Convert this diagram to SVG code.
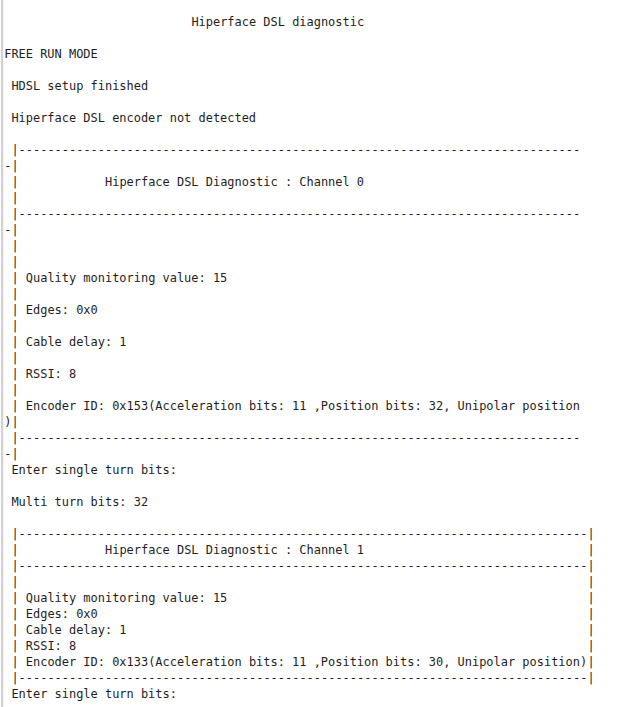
<svg xmlns="http://www.w3.org/2000/svg" width="618" height="707" viewBox="0 0 618 707">
<style>
text{font-family:"DejaVu Sans Mono","Liberation Mono",monospace;font-size:11.96px;fill:#1e1e1e;white-space:pre}
</style>
<rect width="618" height="707" fill="#ffffff"/>
<rect x="1" y="0" width="2.2" height="707" fill="#d2d2d2"/>
<g id="header">
<text x="191.4" y="26">Hiperface DSL diagnostic</text>
<text x="4.2" y="58">FREE RUN MODE</text>
<text x="11.4" y="90">HDSL setup finished</text>
<text x="11.4" y="122">Hiperface DSL encoder not detected</text>
</g>
<g id="channel0">
<text x="11.4" y="154" textLength="568.8" lengthAdjust="spacing">|------------------------------------------------------------------------------</text>
<text x="4.2" y="170">-|</text>
<text x="11.4" y="186">|</text>
<text x="105" y="186">Hiperface DSL Diagnostic : Channel 0</text>
<text x="11.4" y="202">|</text>
<text x="11.4" y="218" textLength="568.8" lengthAdjust="spacing">|------------------------------------------------------------------------------</text>
<text x="4.2" y="234">-|</text>
<text x="11.4" y="250">|</text>
<text x="11.4" y="266">|</text>
<text x="11.4" y="282">|</text>
<text x="25.8" y="282">Quality monitoring value: 15</text>
<text x="11.4" y="298">|</text>
<text x="11.4" y="314">|</text>
<text x="25.8" y="314">Edges: 0x0</text>
<text x="11.4" y="330">|</text>
<text x="11.4" y="346">|</text>
<text x="25.8" y="346">Cable delay: 1</text>
<text x="11.4" y="362">|</text>
<text x="11.4" y="378">|</text>
<text x="25.8" y="378">RSSI: 8</text>
<text x="11.4" y="394">|</text>
<text x="11.4" y="410">|</text>
<text x="25.8" y="410">Encoder ID: 0x153(Acceleration bits: 11 ,Position bits: 32, Unipolar position</text>
<text x="4.2" y="426">)|</text>
<text x="11.4" y="442" textLength="568.8" lengthAdjust="spacing">|------------------------------------------------------------------------------</text>
<text x="4.2" y="458">-|</text>
<text x="11.4" y="474">Enter single turn bits:</text>
<text x="11.4" y="506">Multi turn bits: 32</text>
</g>
<g id="channel1">
<text x="11.4" y="538" textLength="583.2" lengthAdjust="spacing">|-------------------------------------------------------------------------------|</text>
<text x="11.4" y="554">|</text>
<text x="105" y="554">Hiperface DSL Diagnostic : Channel 1</text>
<text x="587.4" y="554">|</text>
<text x="11.4" y="570" textLength="583.2" lengthAdjust="spacing">|-------------------------------------------------------------------------------|</text>
<text x="11.4" y="586">|</text>
<text x="587.4" y="586">|</text>
<text x="11.4" y="602">|</text>
<text x="25.8" y="602">Quality monitoring value: 15</text>
<text x="587.4" y="602">|</text>
<text x="11.4" y="618">|</text>
<text x="25.8" y="618">Edges: 0x0</text>
<text x="587.4" y="618">|</text>
<text x="11.4" y="634">|</text>
<text x="25.8" y="634">Cable delay: 1</text>
<text x="587.4" y="634">|</text>
<text x="11.4" y="650">|</text>
<text x="25.8" y="650">RSSI: 8</text>
<text x="587.4" y="650">|</text>
<text x="11.4" y="666">|</text>
<text x="25.8" y="666">Encoder ID: 0x133(Acceleration bits: 11 ,Position bits: 30, Unipolar position)</text>
<text x="587.4" y="666">|</text>
<text x="11.4" y="682" textLength="583.2" lengthAdjust="spacing">|-------------------------------------------------------------------------------|</text>
<text x="11.4" y="698">Enter single turn bits:</text>
</g>
</svg>
